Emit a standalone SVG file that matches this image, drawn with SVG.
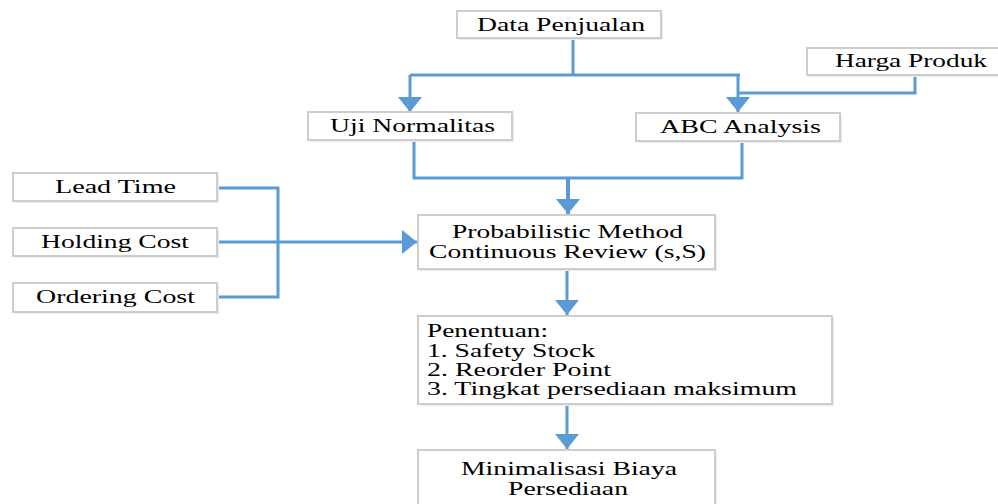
<svg xmlns="http://www.w3.org/2000/svg" width="998" height="504" viewBox="0 0 998 504">
<defs>
<style>
.box{fill:#ffffff;stroke:#cdcdcd;stroke-width:2}
.sh{fill:#ececec;stroke:none}
.t{font-family:"Liberation Serif","Times New Roman",serif;font-size:18px;fill:#000}
.c{fill:none;stroke:#5b9bd5;stroke-width:3}
</style>
<marker id="ah" markerUnits="userSpaceOnUse" markerWidth="16" markerHeight="24" refX="15" refY="12" orient="auto" viewBox="0 0 16 24">
<path d="M0,0 L15,12 L0,24 Z" fill="#5b9bd5"/>
</marker>
</defs>
<rect width="998" height="504" fill="#ffffff"/>
<g id="connectors">
<path class="c" d="M573,38 V75"/>
<path class="c" d="M410,75 H740"/>
<path class="c" d="M410,75 V112" marker-end="url(#ah)"/>
<path class="c" d="M915,75 V93 H738"/>
<path class="c" d="M738,75 V112" marker-end="url(#ah)"/>
<path class="c" d="M414,141 V178 H742 V141"/>
<path class="c" style="stroke-width:4" d="M568,178 V214" marker-end="url(#ah)"/>
<path class="c" d="M217,188 H278 V297 H217"/>
<path class="c" d="M217,242 H417" marker-end="url(#ah)"/>
<path class="c" d="M567,269 V315" marker-end="url(#ah)"/>
<path class="c" d="M567,404 V449" marker-end="url(#ah)"/>
</g>
<g id="data-penjualan">
<rect class="sh" x="459" y="13" width="204" height="27"/>
<rect class="box" x="457" y="11" width="204" height="27"/>
<text class="t" x="477" y="31" textLength="168" lengthAdjust="spacingAndGlyphs">Data Penjualan</text>
</g>
<g id="harga-produk">
<rect class="sh" x="809" y="50" width="194" height="27"/>
<rect class="box" x="807" y="48" width="194" height="27"/>
<text class="t" x="835" y="67" textLength="152" lengthAdjust="spacingAndGlyphs">Harga Produk</text>
</g>
<g id="uji-normalitas">
<rect class="sh" x="310" y="114" width="204" height="28"/>
<rect class="box" x="308" y="112" width="204" height="28"/>
<text class="t" x="330" y="132" textLength="165" lengthAdjust="spacingAndGlyphs">Uji Normalitas</text>
</g>
<g id="abc-analysis">
<rect class="sh" x="638" y="115" width="204" height="28"/>
<rect class="box" x="636" y="113" width="204" height="28"/>
<text class="t" x="660" y="133" textLength="161" lengthAdjust="spacingAndGlyphs">ABC Analysis</text>
</g>
<g id="lead-time">
<rect class="sh" x="15" y="175" width="204" height="28"/>
<rect class="box" x="13" y="173" width="204" height="28"/>
<text class="t" x="55" y="193" textLength="121" lengthAdjust="spacingAndGlyphs">Lead Time</text>
</g>
<g id="holding-cost">
<rect class="sh" x="15" y="230" width="204" height="28"/>
<rect class="box" x="13" y="228" width="204" height="28"/>
<text class="t" x="41" y="248" textLength="148" lengthAdjust="spacingAndGlyphs">Holding Cost</text>
</g>
<g id="ordering-cost">
<rect class="sh" x="15" y="285" width="204" height="29"/>
<rect class="box" x="13" y="283" width="204" height="29"/>
<text class="t" x="36" y="303" textLength="159" lengthAdjust="spacingAndGlyphs">Ordering Cost</text>
</g>
<g id="probabilistic">
<rect class="sh" x="420" y="217" width="297" height="54"/>
<rect class="box" x="418" y="215" width="297" height="54"/>
<text class="t" x="452" y="238" textLength="231" lengthAdjust="spacingAndGlyphs">Probabilistic Method</text>
<text class="t" x="429" y="258" textLength="277" lengthAdjust="spacingAndGlyphs">Continuous Review (s,S)</text>
</g>
<g id="penentuan">
<rect class="sh" x="420" y="318" width="414" height="88"/>
<rect class="box" x="418" y="316" width="414" height="88"/>
<text class="t" x="427" y="337" textLength="121" lengthAdjust="spacingAndGlyphs">Penentuan:</text>
<text class="t" x="427" y="357" textLength="168" lengthAdjust="spacingAndGlyphs">1. Safety Stock</text>
<text class="t" x="427" y="376" textLength="184" lengthAdjust="spacingAndGlyphs">2. Reorder Point</text>
<text class="t" x="427" y="395" textLength="370" lengthAdjust="spacingAndGlyphs">3. Tingkat persediaan maksimum</text>
</g>
<g id="minimalisasi">
<rect class="sh" x="420" y="452" width="297" height="60"/>
<rect class="box" x="418" y="450" width="297" height="60"/>
<text class="t" x="461" y="475" textLength="216" lengthAdjust="spacingAndGlyphs">Minimalisasi Biaya</text>
<text class="t" x="508" y="495" textLength="120" lengthAdjust="spacingAndGlyphs">Persediaan</text>
</g>
</svg>
